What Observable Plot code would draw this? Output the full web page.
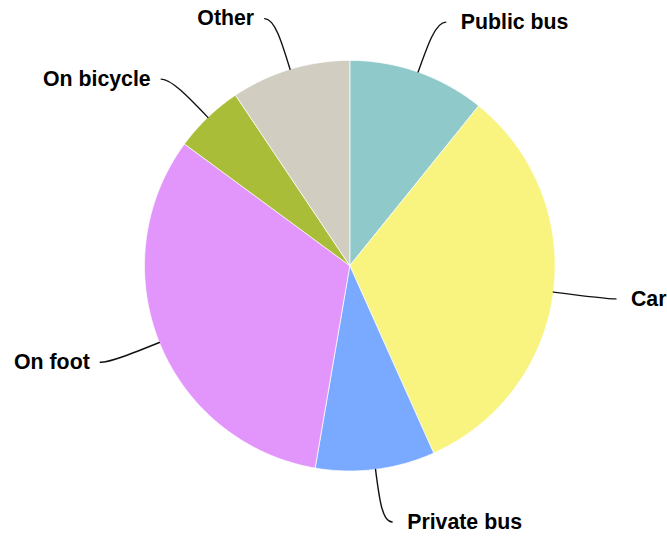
<!DOCTYPE html>
<html>
<head>
<meta charset="utf-8">
<script src="https://cdn.jsdelivr.net/npm/d3@7"></script>
<script src="https://cdn.jsdelivr.net/npm/@observablehq/plot@0.6"></script>
<style>
  html, body { margin: 0; padding: 0; background: #ffffff; }
  #chart svg { display: block; }
</style>
</head>
<body>
<div id="chart"></div>
<script>
// ---- data ----
const categories = ["Public bus", "Car", "Private bus", "On foot", "On bicycle", "Other"];
const shares = [10.8, 32.5, 9.4, 32.4, 5.5, 9.4];
const colors = ["#8fc9c9", "#f8f47f", "#7aaaff", "#e295fa", "#aabd38", "#d1cec1"];

// ---- layout ----
const W = 667, H = 538;
const R = 205.3;            // pie radius in px
const cx = 349.3, cy = 265.2; // pie centre in px
const leadLen = 53 / R;     // radial leader length (in radius units)
const leadHoriz = 10 / R;   // horizontal leader tail

const arcs = d3.pie().sort(null).value(d => d.value)(
  categories.map((c, i) => ({label: c, value: shares[i]}))
);

// slice outlines (unit radius, y upward)
const slicePts = [];
for (const a of arcs) {
  const lab = a.data.label;
  slicePts.push({label: lab, x: 0, y: 0});
  const n = Math.max(4, Math.ceil((a.endAngle - a.startAngle) / (Math.PI / 360)));
  for (let k = 0; k <= n; k++) {
    const t = a.startAngle + (a.endAngle - a.startAngle) * k / n;
    slicePts.push({label: lab, x: Math.sin(t), y: Math.cos(t)});
  }
  slicePts.push({label: lab, x: 0, y: 0});
}

// leader lines and label anchors
const leaderPts = [];
const labels = [];
for (const a of arcs) {
  const m = (a.startAngle + a.endAngle) / 2;
  const s = Math.sin(m), c = Math.cos(m);
  const side = s >= 0 ? 1 : -1;
  const r2 = 1 + leadLen;
  const p0 = {x: s, y: c};
  const p1 = {x: s * (1 + leadLen * 0.55), y: c * (1 + leadLen * 0.55)};
  const p2 = {x: s * r2, y: c * r2};
  const p3 = {x: s * r2 + side * leadHoriz, y: c * r2};
  for (const p of [p0, p1, p2, p3]) leaderPts.push({label: a.data.label, ...p});
  labels.push({label: a.data.label, x: p3.x, y: p3.y, side});
}

// cubic Bézier curve factory: 4 points -> one smooth segment
function bezier(context) {
  let pts = [];
  return {
    areaStart() {}, areaEnd() {},
    lineStart() { pts = []; },
    point(x, y) { pts.push([+x, +y]); },
    lineEnd() {
      if (pts.length === 4) {
        context.moveTo(pts[0][0], pts[0][1]);
        context.bezierCurveTo(pts[1][0], pts[1][1], pts[2][0], pts[2][1], pts[3][0], pts[3][1]);
      } else if (pts.length) {
        context.moveTo(pts[0][0], pts[0][1]);
        for (const p of pts.slice(1)) context.lineTo(p[0], p[1]);
      }
    }
  };
}

const font = "'Liberation Sans', Arial, Helvetica, sans-serif";

const chart = Plot.plot({
  width: W,
  height: H,
  margin: 0,
  style: {background: "#ffffff", fontFamily: font, overflow: "visible"},
  x: {domain: [-cx / R, (W - cx) / R], range: [0, W], axis: null},
  y: {domain: [-(H - cy) / R, cy / R], range: [H, 0], axis: null},
  color: {type: "ordinal", domain: categories, range: colors, legend: false},
  marks: [
    Plot.line(slicePts, {
      x: "x", y: "y", z: "label", fill: "label",
      stroke: "#ffffff", strokeWidth: 0.7, strokeLinejoin: "round"
    }),
    Plot.line(leaderPts, {
      x: "x", y: "y", z: "label",
      stroke: "#111111", strokeWidth: 1.4, curve: bezier
    }),
    Plot.text(labels.filter(d => d.side > 0), {
      x: "x", y: "y", text: "label", textAnchor: "start", dx: 15,
      fontSize: 21.3, fontWeight: "bold", fill: "#000000", fontFamily: font
    }),
    Plot.text(labels.filter(d => d.side < 0), {
      x: "x", y: "y", text: "label", textAnchor: "end", dx: -10.5,
      fontSize: 21.3, fontWeight: "bold", fill: "#000000", fontFamily: font
    })
  ]
});

document.getElementById("chart").appendChild(chart);
</script>
</body>
</html>
